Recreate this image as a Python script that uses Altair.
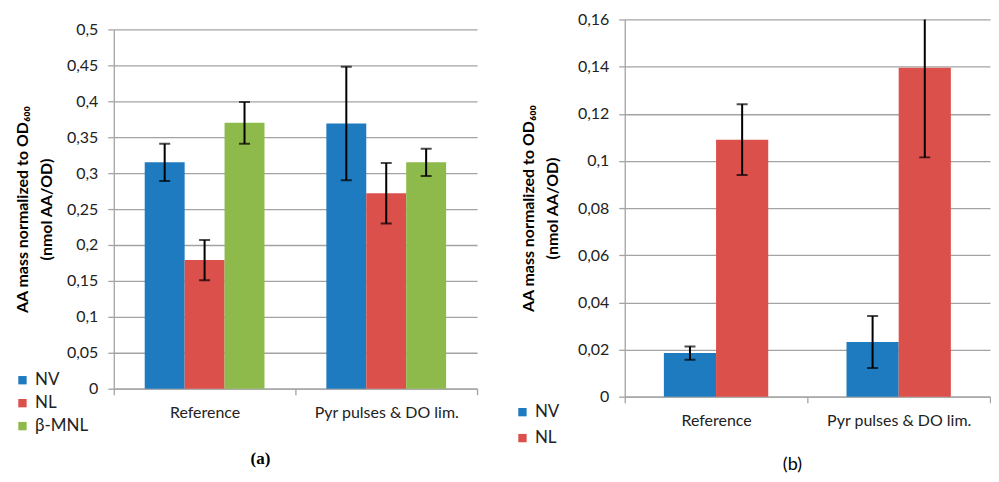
import altair as alt
import pandas as pd

cats = ["Reference", "Pyr pulses & DO lim."]
series_a = ["NV", "NL", "β-MNL"]
series_b = ["NV", "NL"]
colors = ["#1f7bbf", "#dc504c", "#8dba4b"]

a_nv = [0.315, 0.369]
a_nv_err = [0.026, 0.079]
a_nl = [0.179, 0.272]
a_nl_err = [0.028, 0.042]
a_bm = [0.370, 0.315]
a_bm_err = [0.029, 0.019]

b_nv = [0.0185, 0.0232]
b_nv_err = [0.0028, 0.011]
b_nl = [0.109, 0.1395]
b_nl_err = [0.015, 0.038]

a_ticks = [0, 0.05, 0.1, 0.15, 0.2, 0.25, 0.3, 0.35, 0.4, 0.45, 0.5]
b_ticks = [0, 0.02, 0.04, 0.06, 0.08, 0.1, 0.12, 0.14, 0.16]


def make_df(series, vals, errs):
    rows = []
    for s, v, e in zip(series, vals, errs):
        for c, vv, ee in zip(cats, v, e):
            rows.append({"cat": c, "series": s, "val": vv, "lo": vv - ee, "hi": vv + ee})
    return pd.DataFrame(rows)


df_a = make_df(series_a, [a_nv, a_nl, a_bm], [a_nv_err, a_nl_err, a_bm_err])
df_b = make_df(series_b, [b_nv, b_nl], [b_nv_err, b_nl_err])

FONT = "Lato"
LBL = 16
GRID = "#a3a3a3"
label_expr = "replace(format(datum.value, '~g'), '.', ',')"
ytitle = ["AA mass normalized to OD₆₀₀", "(nmol AA/OD)"]


def panel(df, series, ticks, domain, rng, height, width, pad_outer, legend_xy, row_pad,
          title_pad, title):
    yscale = alt.Scale(domain=domain, range=rng, nice=False, zero=True)
    yaxis = alt.Axis(
        values=ticks, labelExpr=label_expr, title=ytitle, titleFont=FONT,
        titleFontSize=16, titleFontWeight="bold", titleColor="black",
        titlePadding=title_pad, titleLineHeight=24,
        labelFont=FONT, labelFontSize=LBL, labelColor="#222", grid=True, gridColor=GRID,
        gridWidth=1.3, domainColor=GRID, domainWidth=1.3, tickColor=GRID, tickWidth=1.3,
        tickSize=6, labelPadding=10, labelOverlap=False,
    )
    base = alt.Chart(df).encode(
        x=alt.X("cat:N", sort=cats, scale=alt.Scale(paddingInner=0, paddingOuter=0),
                axis=alt.Axis(title=None, labelAngle=0, tickBand="extent", labelFont=FONT,
                              labelFontSize=LBL, labelColor="#222", domainColor=GRID,
                              domainWidth=1.3, tickColor=GRID, tickWidth=1.3, tickSize=6,
                              labelPadding=10)),
        xOffset=alt.XOffset("series:N", sort=series,
                            scale=alt.Scale(paddingInner=0, paddingOuter=pad_outer)),
    )
    bars = base.mark_bar().encode(
        y=alt.Y("val:Q", scale=yscale, axis=yaxis),
        color=alt.Color("series:N", sort=series,
                        scale=alt.Scale(domain=series, range=colors[:len(series)]),
                        legend=alt.Legend(title=None, orient="none", legendX=legend_xy[0],
                                          legendY=legend_xy[1], symbolType="square",
                                          symbolSize=70, symbolStrokeWidth=0,
                                          labelFont=FONT, labelFontSize=17,
                                          labelColor="#222", rowPadding=row_pad)),
    )
    rule = base.mark_rule(color="black", strokeWidth=2, clip=True).encode(
        y=alt.Y("lo:Q", scale=yscale, axis=yaxis), y2="hi:Q")
    cap_lo = base.mark_tick(color="black", thickness=2, size=11, clip=True).encode(
        y=alt.Y("lo:Q", scale=yscale, axis=yaxis))
    cap_hi = base.mark_tick(color="black", thickness=2, size=11, clip=True).encode(
        y=alt.Y("hi:Q", scale=yscale, axis=yaxis))
    return alt.layer(bars, rule, cap_lo, cap_hi).properties(
        width=width, height=height, title=title)


pa = panel(df_a, series_a, a_ticks, [0, 0.5], [370, 10], 370, 364, 0.775, (-100, 353), 5, 12,
           alt.TitleParams("(a)", orient="bottom", font="Liberation Serif", fontSize=17,
                           fontWeight="bold", color="black", offset=16, dx=-35))
pb = panel(df_b, series_b, b_ticks, [0, 0.16], [378, 0], 378, 366, 0.75, (-111, 385), 8, 17,
           alt.TitleParams("(b)", orient="bottom", font=FONT, fontSize=18,
                           fontWeight="normal", color="black", offset=9, dx=-15))

chart = alt.hconcat(pa, pb, spacing=36).resolve_scale(
    color="independent", y="independent", x="independent", xOffset="independent"
).resolve_legend(color="independent").properties(
    padding={"left": 6, "top": 3, "right": 0, "bottom": 0}
).configure_view(stroke=None)

chart.save("out.html", embed_options={"renderer": "svg", "actions": False})
